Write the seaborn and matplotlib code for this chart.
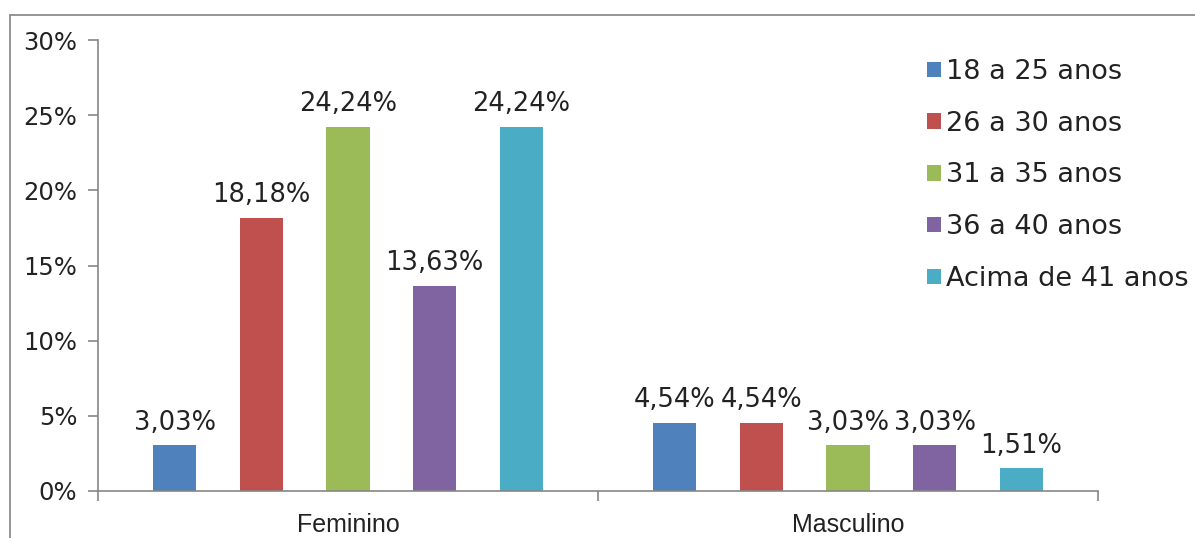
import matplotlib
matplotlib.use("Agg")
import matplotlib.pyplot as plt
import seaborn as sns
import pandas as pd
from matplotlib.lines import Line2D
from matplotlib.ticker import FixedLocator, FuncFormatter

# Data
sexos = ["Feminino", "Masculino"]
faixas = ["18 a 25 anos", "26 a 30 anos", "31 a 35 anos", "36 a 40 anos", "Acima de 41 anos"]
feminino = [3.03, 18.18, 24.24, 13.63, 24.24]
masculino = [4.54, 4.54, 3.03, 3.03, 1.51]
cores = ["#4F81BD", "#C0504D", "#9BBB59", "#8064A2", "#4BACC6"]
yticks = [0, 5, 10, 15, 20, 25, 30]

rows = []
for s, vals in zip(sexos, [feminino, masculino]):
    for f, v in zip(faixas, vals):
        rows.append({"Sexo": s, "Faixa": f, "Valor": v})
df = pd.DataFrame(rows)

sns.set_theme(style="white")
plt.rcParams["font.family"] = ["DejaVu Sans"]

fig = plt.figure(figsize=(11.95, 5.38), dpi=100)
ax = fig.add_axes([98 / 1195, 47 / 538, 1000 / 1195, 451 / 538])

sns.barplot(data=df, x="Sexo", y="Valor", hue="Faixa", order=sexos, hue_order=faixas,
            palette=cores, width=0.867, gap=0.5, saturation=1, ax=ax, legend=True,
            edgecolor="none", linewidth=0)

for cont in ax.containers:
    labels = [f"{v:.2f}%".replace(".", ",") for v in cont.datavalues]
    ax.bar_label(cont, labels=labels, padding=7, fontsize=18.5, color="#222222")

ax.set_xlim(-0.5, 1.5)
ax.set_ylim(0, 30)
ax.set_yticks(yticks)
ax.yaxis.set_major_formatter(FuncFormatter(lambda v, p: f"{int(v)}%"))
ax.set_xlabel("")
ax.set_ylabel("")

grey = "#868686"
for side in ["top", "right"]:
    ax.spines[side].set_visible(False)
for side in ["left", "bottom"]:
    ax.spines[side].set_color(grey)
    ax.spines[side].set_linewidth(1.2)

ax.tick_params(axis="y", which="major", left=True, length=7, width=1.2, color=grey,
               labelsize=17.5, labelcolor="#222222", pad=8, direction="out")
ax.tick_params(axis="x", which="major", bottom=False, length=0, labelsize=18, labelcolor="#222222", pad=16)
for lbl in ax.get_xticklabels():
    lbl.set_fontfamily(["Liberation Sans"])
ax.xaxis.set_minor_locator(FixedLocator([-0.5, 0.5, 1.5]))
ax.tick_params(axis="x", which="minor", bottom=True, length=7, width=1.2, color=grey, direction="out")

leg = ax.legend(loc="upper left", bbox_to_anchor=(927 / 1195, 1 - 59 / 538),
                bbox_transform=fig.transFigure, frameon=False, fontsize=19.5,
                handlelength=0.5, handleheight=0.5, handletextpad=0.2,
                labelspacing=0.95, borderaxespad=0, borderpad=0)
for t in leg.get_texts():
    t.set_color("#222222")

# outer chart frame (partially visible)
fig.add_artist(Line2D([10 / 1195, 1.0], [1 - 15 / 538, 1 - 15 / 538], transform=fig.transFigure,
                      color="#8c8c8c", linewidth=1.3))
fig.add_artist(Line2D([10 / 1195, 10 / 1195], [0, 1 - 15 / 538], transform=fig.transFigure,
                      color="#8c8c8c", linewidth=1.3))

fig.savefig("out.png", dpi=100, facecolor="white")
